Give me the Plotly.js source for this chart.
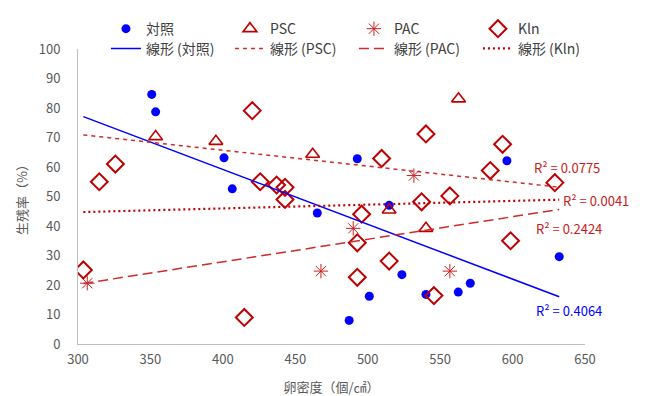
<!DOCTYPE html>
<html><head><meta charset="utf-8">
<script src="https://cdn.plot.ly/plotly-3.0.1.min.js"></script>
<style>html,body{margin:0;padding:0;background:#fff}#chart{width:646px;height:396px}</style>
</head><body><div id="chart"></div>
<script>
// ---- data ----
const ctrlX = [350.9, 353.6, 400.8, 406.5, 465.2, 492.8, 514.8, 523.6, 501.1, 487.2, 540.2, 562.5, 570.8, 596.1, 632.2];
const ctrlY = [84.6, 78.7, 63.1, 52.6, 44.4, 62.8, 47.0, 23.5, 16.2, 8.0, 16.8, 17.6, 20.6, 62.1, 29.6];
const pscX = [353.6, 395.2, 462.0, 562.7, 514.8, 540.2];
const pscY = [70.3, 68.7, 64.3, 83.1, 45.4, 39.2];
const pacX = [306.4, 490.0, 467.7, 556.7, 531.9];
const pacY = [20.6, 39.2, 24.7, 24.7, 57.1];
const klnX = [303.7, 314.7, 325.8, 414.8, 420.3, 425.8, 437.1, 442.9, 442.9, 495.8, 492.8, 492.8, 509.6, 514.8, 537.2, 540.2, 545.7, 556.7, 584.6, 593.1, 598.6, 629.2];
const klnY = [25.1, 55.0, 61.0, 9.0, 79.1, 55.0, 53.9, 53.1, 49.0, 44.0, 34.3, 22.6, 62.9, 28.1, 48.2, 71.2, 16.4, 50.2, 58.8, 67.7, 35.0, 54.7];
const seriesNames = ['対照', 'PSC', 'PAC', 'Kln'];
const trendNames = ['線形 (対照)', '線形 (PSC)', '線形 (PAC)', '線形 (Kln)'];
const r2Labels = ['R² = 0.4064', 'R² = 0.0775', 'R² = 0.2424', 'R² = 0.0041'];
const xTicks = [300, 350, 400, 450, 500, 550, 600, 650];
const yTicks = [0, 10, 20, 30, 40, 50, 60, 70, 80, 90, 100];

// ---- helpers ----
function fit(xs, ys) {
  const n = xs.length;
  const mx = xs.reduce((a, b) => a + b, 0) / n;
  const my = ys.reduce((a, b) => a + b, 0) / n;
  let sxy = 0, sxx = 0;
  for (let i = 0; i < n; i++) { sxy += (xs[i] - mx) * (ys[i] - my); sxx += (xs[i] - mx) ** 2; }
  const b = sxy / sxx;
  return x => my + b * (x - mx);
}
const allX = ctrlX.concat(pscX, pacX, klnX);
const x0 = Math.min(...allX), x1 = Math.max(...allX);

const RED = '#C00000', BLUE = '#0000FF';
const FONT = '"Noto Sans CJK JP", "Noto Sans", sans-serif';

const sets = [[ctrlX, ctrlY], [pscX, pscY], [pacX, pacY], [klnX, klnY]];
const markers = [
  {symbol: 'circle', size: 9, color: BLUE},
  {symbol: 'triangle-up-open', size: 12, color: RED, line: {width: 1.6, color: RED}},
  {symbol: 'asterisk-open', size: 12, color: '#D02020', line: {width: 1, color: '#D02020'}},
  {symbol: 'diamond-open', size: 13, color: RED, line: {width: 2, color: RED}}
];
const lines = [
  {color: BLUE, width: 1.5, dash: 'solid'},
  {color: '#D02A2A', width: 1.5, dash: '4px,4px'},
  {color: '#D02A2A', width: 1.5, dash: '10px,5px'},
  {color: RED, width: 2.2, dash: '2px,3px'}
];

const traces = [];
sets.forEach((s, i) => {
  traces.push({x: s[0], y: s[1], type: 'scatter', mode: 'markers', name: seriesNames[i], marker: markers[i], legend: 'legend'});
});
sets.forEach((s, i) => {
  const f = fit(s[0], s[1]);
  traces.push({x: [x0, x1], y: [f(x0), f(x1)], type: 'scatter', mode: 'lines', name: trendNames[i], line: lines[i], legend: 'legend2'});
});

const ann = [
  {text: r2Labels[0], x: 0.899, y: 0.112, color: BLUE},
  {text: r2Labels[1], x: 0.895, y: 0.600, color: '#C82020'},
  {text: r2Labels[2], x: 0.899, y: 0.390, color: '#C82020'},
  {text: r2Labels[3], x: 0.953, y: 0.488, color: '#C82020'}
].map(a => ({text: a.text, x: a.x, y: a.y, xref: 'paper', yref: 'paper', xanchor: 'left', yanchor: 'middle', showarrow: false, font: {family: FONT, size: 13, color: a.color}}));

const legendBase = {orientation: 'h', xref: 'container', yref: 'container', x: 0.164, xanchor: 'left', yanchor: 'top',
  entrywidth: 79, entrywidthmode: 'pixels', traceorder: 'normal', bgcolor: 'rgba(0,0,0,0)',
  font: {family: FONT, size: 14, color: '#404040'}};

const layout = {
  width: 646, height: 396,
  margin: {l: 78, r: 61, t: 49, b: 52, autoexpand: false},
  paper_bgcolor: '#fff', plot_bgcolor: '#fff',
  font: {family: FONT, size: 13, color: '#595959'},
  xaxis: {range: [300, 650], tickvals: xTicks, ticktext: xTicks.map(String), showgrid: false, zeroline: false,
          showline: true, linecolor: '#BFBFBF', linewidth: 1, ticks: '', ticklen: 0, ticklabelstandoff: 3,
          title: {text: '卵密度（個/㎠）', font: {family: FONT, size: 13, color: '#595959'}, standoff: 16}},
  yaxis: {range: [0, 100], tickvals: yTicks, ticktext: yTicks.map(String), showgrid: false, zeroline: false,
          showline: true, linecolor: '#BFBFBF', linewidth: 1, ticks: '', ticklen: 0, ticklabelstandoff: 14,
          title: {text: '生残率（%）', font: {family: FONT, size: 13, color: '#595959'}, standoff: 8}},
  showlegend: true,
  legend: Object.assign({}, legendBase, {y: 0.967}),
  legend2: Object.assign({}, legendBase, {y: 0.917}),
  annotations: ann
};

Plotly.newPlot('chart', traces, layout, {displayModeBar: false, staticPlot: true});
</script></body></html>
